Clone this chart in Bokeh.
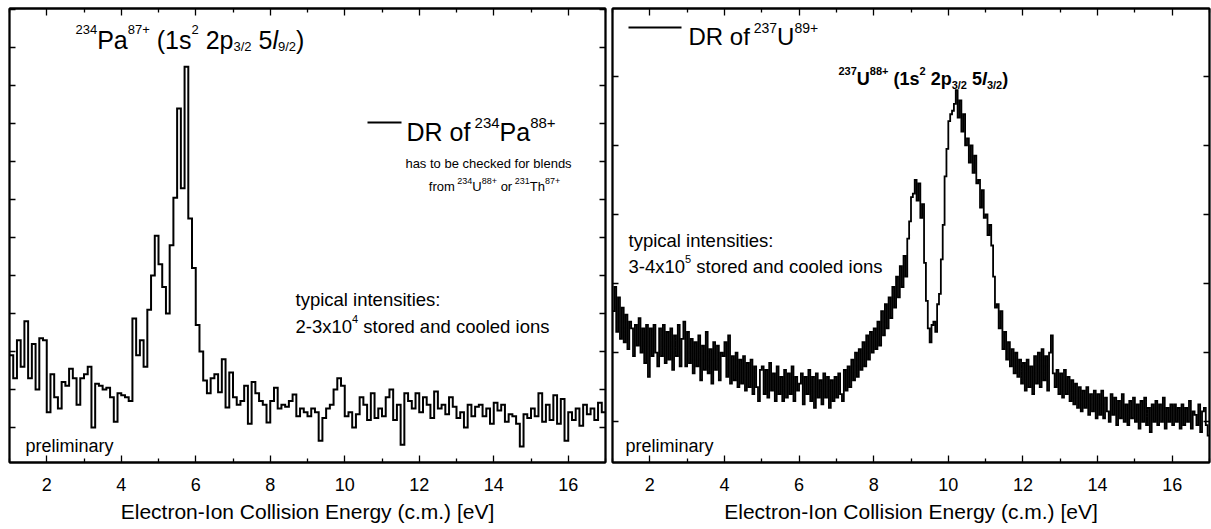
from bokeh.plotting import figure
from bokeh.layouts import row
from bokeh.models import Label, LinearAxis, FixedTicker, CustomJSTickFormatter, Range1d
from bokeh.embed import file_html
from bokeh.resources import INLINE

FONT = "Liberation Sans"

# ---------------- data ----------------
# 234Pa88+ DR spectrum (left), bins of 0.1 eV starting at 1.0 eV (arb. units)
pa_e0, pa_de = 1.0, 0.1
pa_rate = [
    1.9, 1.3, 2.3, 1.6, 2.8, 1.3, 2.2, 1.0, 2.35, 2.3,
    0.4, 1.4, 0.8, 0.5, 1.2, 1.1, 1.55, 1.3, 0.6, 1.3,
    1.4, 1.6, 0.0, 1.15, 1.1, 1.0, 1.05, 0.8, 0.15, 0.9,
    0.85, 0.8, 0.7, 2.87, 1.9, 2.3, 1.6, 3.1, 4.0, 5.05,
    4.3, 3.7, 3.0, 4.8, 6.05, 8.4, 6.3, 9.5, 5.5, 4.2,
    2.7, 2.0, 1.24, 0.9, 1.3, 1.4, 0.93, 1.8, 0.53, 1.45,
    0.8, 0.6, 0.7, 1.1, 0.1, 1.2, 0.9, 0.7, 0.6, 0.13,
    0.7, 1.05, 0.5, 0.6, 0.55, 0.7, 0.87, 0.3, 0.5, 0.4,
    0.3, 0.5, 0.4, -0.35, 0.25, 0.5, 0.6, 1.0, 1.3, 1.1,
    0.3, 0.4, 0.0, 0.35, 0.8, 0.6, 0.2, 0.9, 0.25, 0.5,
    0.3, 0.8, 1.0, 0.2, 0.6, -0.45, 0.9, 0.7, 0.5, 0.9,
    0.4, 0.8, 0.6, 0.25, 0.95, 0.5, 0.6, 0.35, 0.8, 0.55,
    0.25, 0.4, 0.0, 0.6, 0.3, 0.55, 0.6, 0.3, 0.5, 0.1,
    0.65, 0.45, 0.6, 0.15, 0.35, 0.3, 0.1, -0.5, 0.35, 0.25,
    0.5, 0.3, 0.9, 0.15, 0.6, 0.2, 0.85, 0.1, 0.75, -0.35,
    0.4, 0.2, 0.5, 0.05, 0.6, 0.35, 0.5, 0.2, 0.65, 0.4,
]

# 237U89+ DR spectrum (right), bins of 0.05 eV starting at 1.0 eV (arb. units)
u_e0, u_de = 1.0, 0.05
u_rate = [
    1.6, 1.95, 1.3, 1.8, 1.2, 1.65, 1.15, 1.55, 1.05, 1.45, 1.35, 0.95, 1.4, 1.1, 1.5, 1.0, 1.35, 0.85, 1.4, 0.65,
    1.35, 0.95, 1.4, 1.0, 0.8, 1.35, 0.95, 1.4, 0.85, 1.3, 0.9, 1.35, 0.75, 1.25, 0.95, 1.4, 0.8, 1.2, 1.45, 0.8,
    1.3, 0.85, 1.2, 0.7, 1.15, 0.8, 1.25, 0.6, 1.1, 0.75, 1.3, 0.7, 1.05, 0.55, 1.15, 0.75, 1.1, 0.6, 1.0, 0.95,
    1.15, 0.65, 1.25, 0.55, 0.95, 0.6, 1.0, 0.5, 0.9, 0.55, 0.95, 0.45, 0.85, 0.5, 0.9, 0.4, 0.8, 0.5, 0.3, 0.75,
    0.8, 0.4, 0.75, 0.35, 0.85, 0.45, 0.7, 0.3, 0.8, 0.4, 0.65, 0.3, 0.75, 0.35, 0.7, 0.4, 0.8, 0.3, 0.65, 0.45,
    0.55, 0.7, 0.25, 0.65, 0.4, 0.75, 0.3, 0.65, 0.2, 0.7, 0.35, 0.6, 0.25, 0.7, 0.35, 0.65, 0.2, 0.6, 0.3, 0.65,
    0.35, 0.7, 0.4, 0.3, 0.75, 0.45, 0.8, 0.5, 0.9, 0.6, 1.0, 0.65, 1.05, 0.75, 1.15, 0.8, 1.25, 0.9, 1.3, 1.0,
    1.35, 1.05, 1.45, 1.1, 1.6, 1.25, 1.7, 1.35, 1.8, 1.5, 1.95, 1.65, 2.1, 1.8, 2.25, 1.95, 2.4, 2.1, 2.65, 2.9,
    3.25, 3.3, 3.5, 3.2, 3.45, 2.95, 3.15, 2.3, 1.75, 1.35, 1.15, 1.4, 1.45, 1.3, 1.7, 1.85, 2.35, 2.85, 3.55, 3.95,
    4.35, 4.45, 4.5, 4.6, 4.8, 4.4, 4.65, 4.2, 4.45, 4.0, 4.1, 3.75, 4.0, 3.6, 3.85, 3.45, 3.5, 3.1, 3.35, 2.95,
    3.0, 2.7, 2.85, 2.55, 2.1, 1.65, 1.7, 1.35, 1.6, 1.05, 1.3, 0.9, 1.15, 0.8, 1.05, 0.7, 1.0, 0.65, 0.9, 0.55,
    0.85, 0.45, 0.9, 0.5, 0.8, 0.4, 0.95, 0.55, 1.0, 0.5, 1.05, 0.6, 0.95, 0.45, 1.0, 1.25, 0.7, 0.5, 0.75, 0.4,
    0.7, 0.35, 0.75, 0.4, 0.65, 0.3, 0.6, 0.25, 0.55, 0.2, 0.5, 0.15, 0.45, 0.2, 0.5, 0.1, 0.4, 0.15, 0.45, 0.05,
    0.4, 0.1, 0.45, 0.05, 0.35, 0.15, 0.0, 0.4, 0.1, 0.35, -0.05, 0.3, 0.05, 0.4, 0.0, 0.25, -0.05, 0.3, 0.05, 0.35,
    0.0, 0.25, -0.1, 0.3, 0.0, 0.35, -0.05, 0.2, -0.15, 0.25, 0.0, 0.3, -0.05, 0.25, 0.0, 0.35, -0.1, 0.2, 0.0, 0.25,
    -0.05, 0.25, 0.0, 0.2, -0.1, 0.25, -0.05, 0.2, 0.0, 0.3, -0.1, 0.15, 0.1, -0.05, 0.25, -0.15, 0.15, 0.2, -0.05, -0.2,
]

x_range_ev = (1, 17)
x_major_ticks = [2, 4, 6, 8, 10, 12, 14, 16]
x_minor_ticks = [1, 3, 5, 7, 9, 11, 13, 15, 17]
pa_y_range = (-0.92, 11.03)
pa_y_ticks = list(range(0, 12))
u_y_range = (-0.59, 5.98)
u_y_ticks = list(range(0, 6))
x_title = "Electron-Ion Collision Energy (c.m.) [eV]"

# ---------------- layout ----------------
H = 529
TOP = 8
FRAME_H = 454
BOTTOM = H - TOP - FRAME_H
L_LEFT, L_FRAME_W, L_RIGHT = 9, 596, 3
R_LEFT, R_FRAME_W, R_RIGHT = 4, 597, 2
R_OFFSET = L_LEFT + L_FRAME_W + L_RIGHT  # page x where right figure starts

blank = CustomJSTickFormatter(code="return ''")


def style_axis(ax, major_in, minor_in, labels=True):
    ax.axis_line_color = "black"
    ax.axis_line_width = 1.8
    ax.major_tick_line_color = "black"
    ax.major_tick_line_width = 1.3
    ax.minor_tick_line_color = "black"
    ax.minor_tick_line_width = 1.3
    ax.major_tick_in = major_in
    ax.major_tick_out = 0
    ax.minor_tick_in = minor_in
    ax.minor_tick_out = 0
    if not labels:
        ax.formatter = blank
        ax.major_label_text_font_size = "0px"
        ax.major_label_standoff = 0


def panel(width, bl, br, y_range, y_ticks):
    p = figure(width=width, height=H, x_range=Range1d(*x_range_ev), y_range=Range1d(*y_range),
               output_backend="svg", toolbar_location=None, y_axis_location=None,
               min_border_left=bl, min_border_right=br, min_border_top=TOP, min_border_bottom=BOTTOM)
    p.xgrid.visible = False
    p.ygrid.visible = False
    p.outline_line_color = "black"
    p.outline_line_width = 1.8
    p.outline_line_alpha = 1.0
    p.background_fill_color = "white"
    p.border_fill_color = "white"
    xa = p.xaxis[0]
    xa.ticker = FixedTicker(ticks=x_major_ticks, minor_ticks=x_minor_ticks)
    style_axis(xa, 7, 4)
    xa.major_label_text_font = FONT
    xa.major_label_text_font_size = "18px"
    xa.major_label_text_color = "black"
    xa.major_label_standoff = 15
    xa.axis_label = x_title
    xa.axis_label_text_font = FONT
    xa.axis_label_text_font_size = "21px"
    xa.axis_label_text_font_style = "normal"
    xa.axis_label_text_color = "black"
    xa.axis_label_standoff = 6
    above = LinearAxis(ticker=FixedTicker(ticks=x_major_ticks, minor_ticks=x_minor_ticks))
    style_axis(above, 7, 4, labels=False)
    p.add_layout(above, "above")
    for side in ("left", "right"):
        ax = LinearAxis(ticker=FixedTicker(ticks=y_ticks))
        style_axis(ax, 6, 0, labels=False)
        p.add_layout(ax, side)
    return p


# Arial / Liberation Sans advance widths (em)
W = {' ': .278, '+': .584, '-': .333, '/': .278, '(': .333, ')': .333, ':': .278, '.': .278,
     'a': .556, 'b': .556, 'c': .5, 'd': .556, 'e': .556, 'f': .278, 'g': .556, 'h': .556, 'i': .222,
     'k': .5, 'l': .222, 'm': .833, 'n': .556, 'o': .556, 'p': .556, 'r': .333, 's': .5, 't': .278,
     'u': .556, 'x': .5, 'y': .5, 'D': .722, 'R': .722, 'P': .667, 'U': .722, 'T': .611}
WB = dict(W)
WB.update({'s': .556, 'p': .611, 'l': .278})


def text_w(s, size, style):
    tab = WB if "bold" in style else W
    return sum(tab.get(c, .556) for c in s) * size


def make_conv(frame_left_page, frame_w, y_range):
    def conv(px, py):
        x = x_range_ev[0] + (px - frame_left_page) / frame_w * (x_range_ev[1] - x_range_ev[0])
        y = y_range[0] + (TOP + FRAME_H - py) / FRAME_H * (y_range[1] - y_range[0])
        return x, y
    return conv


def rich(p, conv, px, py, runs, anchor="left"):
    total = sum(text_w(t, s, st) for t, s, dy, st in runs)
    if anchor == "center":
        px -= total / 2
    elif anchor == "right":
        px -= total
    x = px
    for t, s, dy, st in runs:
        lead = len(t) - len(t.lstrip(' '))
        x += lead * W[' '] * s
        core = t.strip(' ')
        X, Y = conv(x, py - dy)
        p.add_layout(Label(x=X, y=Y, text=core, text_font=FONT, text_font_size=f"{s}px",
                           text_font_style=st, text_color="black", text_align="left",
                           text_baseline="alphabetic"))
        x += text_w(core, s, st)


def legend_line(p, conv, px0, px1, py):
    x0, y0 = conv(px0, py)
    x1, _ = conv(px1, py)
    p.line([x0, x1], [y0, y0], line_color="black", line_width=1.8)


def step_data(e0, de, vals):
    xs = [e0 + i * de for i in range(len(vals))] + [e0 + len(vals) * de]
    ys = list(vals) + [vals[-1]]
    return xs, ys


# ---------------- left panel ----------------
p1 = panel(L_LEFT + L_FRAME_W + L_RIGHT, L_LEFT, L_RIGHT, pa_y_range, pa_y_ticks)
xs, ys = step_data(pa_e0, pa_de, pa_rate)
p1.step(xs, ys, mode="after", line_color="black", line_width=2.0, line_join="miter")
c1 = make_conv(L_LEFT, L_FRAME_W, pa_y_range)

N = "normal"
I = "italic"
rich(p1, c1, 75, 39, [("234", 13, 10, N), ("Pa", 25, 0, N), ("87+", 13, 10, N), (" (1s", 25, 0, N),
                      ("2", 13, 10, N), (" 2p", 25, 0, N), ("3/2", 13, -7, N), (" 5", 25, 0, N),
                      ("l", 25, 0, I), ("9/2", 13, -7, N), (")", 25, 0, N)])
legend_line(p1, c1, 367, 401, 122)
rich(p1, c1, 406, 131, [("DR of", 25, 0, N), (" 234", 15, 9, N), ("Pa", 25, 0, N), ("88+", 15, 9, N)])
rich(p1, c1, 488, 163, [("has to be checked for blends", 13, 0, N)], anchor="center")
rich(p1, c1, 494, 186, [("from", 13, 0, N), (" 234", 9, 6, N), ("U", 13, 0, N), ("88+", 9, 6, N),
                        (" or", 13, 0, N), (" 231", 9, 6, N), ("Th", 13, 0, N), ("87+", 9, 6, N)],
     anchor="center")
rich(p1, c1, 295, 299, [("typical intensities:", 18.5, 0, N)])
rich(p1, c1, 295, 326, [("2-3x10", 18.5, 0, N), ("4", 11, 8, N), (" stored and cooled ions", 18.5, 0, N)])
rich(p1, c1, 25, 445, [("preliminary", 18, 0, N)])

# ---------------- right panel ----------------
p2 = panel(R_LEFT + R_FRAME_W + R_RIGHT, R_LEFT, R_RIGHT, u_y_range, u_y_ticks)
xs, ys = step_data(u_e0, u_de, u_rate)
p2.step(xs, ys, mode="after", line_color="black", line_width=1.8, line_join="miter")
c2 = make_conv(R_OFFSET + R_LEFT, R_FRAME_W, u_y_range)

B = "bold"
BI = "bold italic"
legend_line(p2, c2, 628, 681, 27)
rich(p2, c2, 688, 36, [("DR of", 24, 0, N), (" 237", 14, 9, N), ("U", 24, 0, N), ("89+", 14, 9, N)])
rich(p2, c2, 838, 78, [("237", 11, 8, B), ("U", 18, 0, B), ("88+", 11, 8, B), (" (1s", 18, 0, B),
                       ("2", 11, 8, B), (" 2p", 18, 0, B), ("3/2", 11, -6, B), (" 5", 18, 0, B),
                       ("l", 18, 0, BI), ("3/2", 11, -6, B), (")", 18, 0, B)])
rich(p2, c2, 628, 240, [("typical intensities:", 18.5, 0, N)])
rich(p2, c2, 628, 266, [("3-4x10", 18.5, 0, N), ("5", 11, 8, N), (" stored and cooled ions", 18.5, 0, N)])
rich(p2, c2, 625, 445, [("preliminary", 18, 0, N)])

layout = row(p1, p2)
open("out.html", "w").write(file_html(layout, INLINE))
